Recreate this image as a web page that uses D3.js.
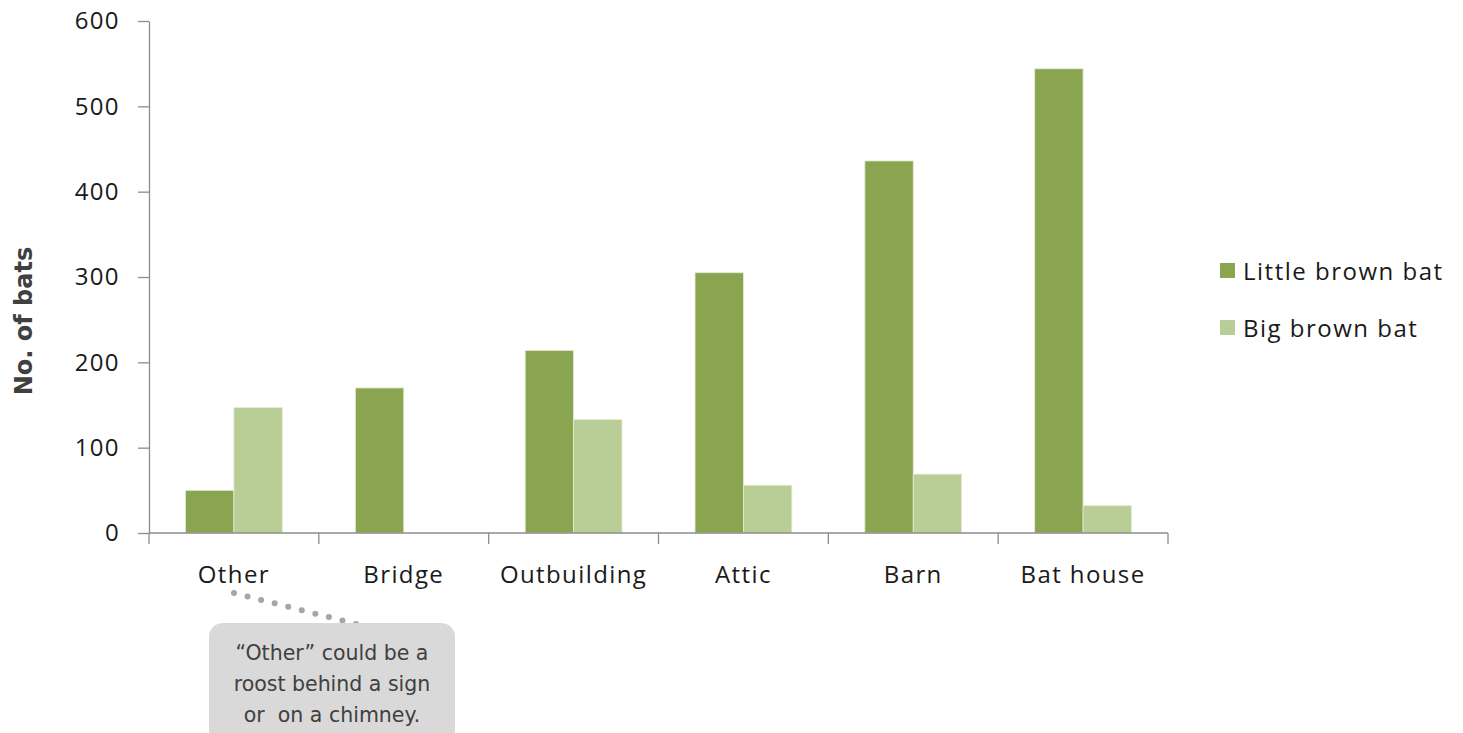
<!DOCTYPE html>
<html>
<head>
<meta charset="utf-8">
<script src="https://cdn.jsdelivr.net/npm/d3@7"></script>
<style>
  body { margin: 0; background: #fff; }
  svg text { font-family: "Open Sans", "Liberation Sans", sans-serif; }
</style>
</head>
<body>
<div class="viz"></div>
<script>
const width = 1463;
const height = 733;
const margin = {top: 21, left: 149, bottom: 200, right: 295};

const categories = ['Other', 'Bridge', 'Outbuilding', 'Attic', 'Barn', 'Bat house'];
const seriesNames = ['Little brown bat', 'Big brown bat'];
const littleBrown = [50, 170, 214, 305, 436, 544];
const bigBrown = [147, 0, 133, 56, 69, 32];
const yTicks = [0, 100, 200, 300, 400, 500, 600];
const colours = ['#8aa54f', '#b9cd96'];

const noteLines = ['\u201COther\u201D could be a', 'roost behind a sign', 'or  on a chimney.'];

const plotWidth = 1168 - margin.left;
const plotHeight = 533 - margin.top;

const svg = d3.select('.viz').append('svg')
  .attr('width', width)
  .attr('height', height);

const plot = svg.append('g')
  .attr('transform', `translate(${margin.left},${margin.top})`);

const xScale = d3.scaleBand()
  .domain(categories)
  .range([0, plotWidth])
  .paddingInner(0.43)
  .paddingOuter(0.215);

const subScale = d3.scaleBand()
  .domain(seriesNames)
  .range([0, xScale.bandwidth()]);

const yScale = d3.scaleLinear()
  .domain([0, 600])
  .range([plotHeight, 0]);

const rows = categories.map((c, i) => ({cat: c, vals: [littleBrown[i], bigBrown[i]]}));

// bars
plot.selectAll('g.cat')
  .data(rows)
  .enter()
  .append('g')
    .attr('class', 'cat')
    .attr('transform', d => `translate(${xScale(d.cat)},0)`)
  .selectAll('rect')
  .data(d => d.vals.map((v, j) => ({name: seriesNames[j], v, j})))
  .enter()
  .append('rect')
    .attr('x', d => subScale(d.name))
    .attr('y', d => yScale(d.v))
    .attr('width', subScale.bandwidth())
    .attr('height', d => plotHeight - yScale(d.v))
    .attr('fill', d => colours[d.j])
    .attr('stroke', d => d.v > 0 ? '#e4ecd6' : 'none')
    .attr('stroke-width', 0.8);

// y axis
const yAxis = plot.append('g')
  .call(d3.axisLeft(yScale).tickValues(yTicks).tickSize(11).tickPadding(18).tickSizeOuter(0));
yAxis.select('.domain').attr('stroke', '#8c8c8c').attr('stroke-width', 1.3);
yAxis.selectAll('.tick line').attr('stroke', '#8c8c8c').attr('stroke-width', 1.3);
yAxis.selectAll('.tick text')
  .attr('fill', '#1a1a1a')
  .style('font-size', '24px')
  .style('letter-spacing', '1.4px');

// x axis with ticks at band boundaries
const xAxisG = plot.append('g').attr('transform', `translate(0,${plotHeight})`);
xAxisG.append('line')
  .attr('x1', 0).attr('x2', plotWidth)
  .attr('stroke', '#8c8c8c').attr('stroke-width', 1.3);
const boundaries = d3.range(categories.length + 1).map(i => i * plotWidth / categories.length);
xAxisG.selectAll('line.xtick')
  .data(boundaries)
  .enter()
  .append('line')
    .attr('class', 'xtick')
    .attr('x1', d => d).attr('x2', d => d)
    .attr('y1', 0).attr('y2', 11)
    .attr('stroke', '#8c8c8c').attr('stroke-width', 1.3);
xAxisG.selectAll('text.xlabel')
  .data(categories)
  .enter()
  .append('text')
    .attr('class', 'xlabel')
    .attr('x', d => xScale(d) + xScale.bandwidth() / 2)
    .attr('y', 50)
    .attr('text-anchor', 'middle')
    .attr('fill', '#1a1a1a')
    .style('font-size', '24px')
    .style('letter-spacing', '1.4px')
    .text(d => d);

// y title
svg.append('text')
  .attr('transform', 'translate(32,321) rotate(-90)')
  .attr('text-anchor', 'middle')
  .attr('fill', '#404040')
  .style('font-family', '"DejaVu Sans", sans-serif')
  .style('font-weight', 'bold')
  .style('font-size', '24px')
  .text('No. of bats');

// legend
const legend = svg.append('g').attr('transform', 'translate(1220,263)');
const li = legend.selectAll('g')
  .data(seriesNames)
  .enter()
  .append('g')
    .attr('transform', (d, i) => `translate(0,${i * 57})`);
li.append('rect')
  .attr('width', 15).attr('height', 15)
  .attr('fill', (d, i) => colours[i]);
li.append('text')
  .attr('x', 23).attr('y', 17)
  .attr('fill', '#1a1a1a')
  .style('font-size', '24px')
  .style('letter-spacing', '1.5px')
  .text(d => d);

// annotation: dotted leader + rounded box
const dots = d3.range(0, 1.0001, 1 / 9).map(t => [234 + t * (356 - 234), 593 + t * (624 - 593)]);
svg.selectAll('circle.dot')
  .data(dots)
  .enter()
  .append('circle')
    .attr('class', 'dot')
    .attr('cx', d => d[0]).attr('cy', d => d[1])
    .attr('r', 3)
    .attr('fill', '#a6a6a6');

svg.append('rect')
  .attr('x', 209).attr('y', 623)
  .attr('width', 246).attr('height', 130)
  .attr('rx', 14)
  .attr('fill', '#d9d9d9');

svg.selectAll('text.note')
  .data(noteLines)
  .enter()
  .append('text')
    .attr('class', 'note')
    .attr('x', 332)
    .attr('y', (d, i) => 660 + i * 31)
    .attr('text-anchor', 'middle')
    .attr('fill', '#404040')
    .style('font-family', '"DejaVu Sans", sans-serif')
    .style('font-size', '20.5px')
    .style('white-space', 'pre')
    .text(d => d);
</script>
</body>
</html>
